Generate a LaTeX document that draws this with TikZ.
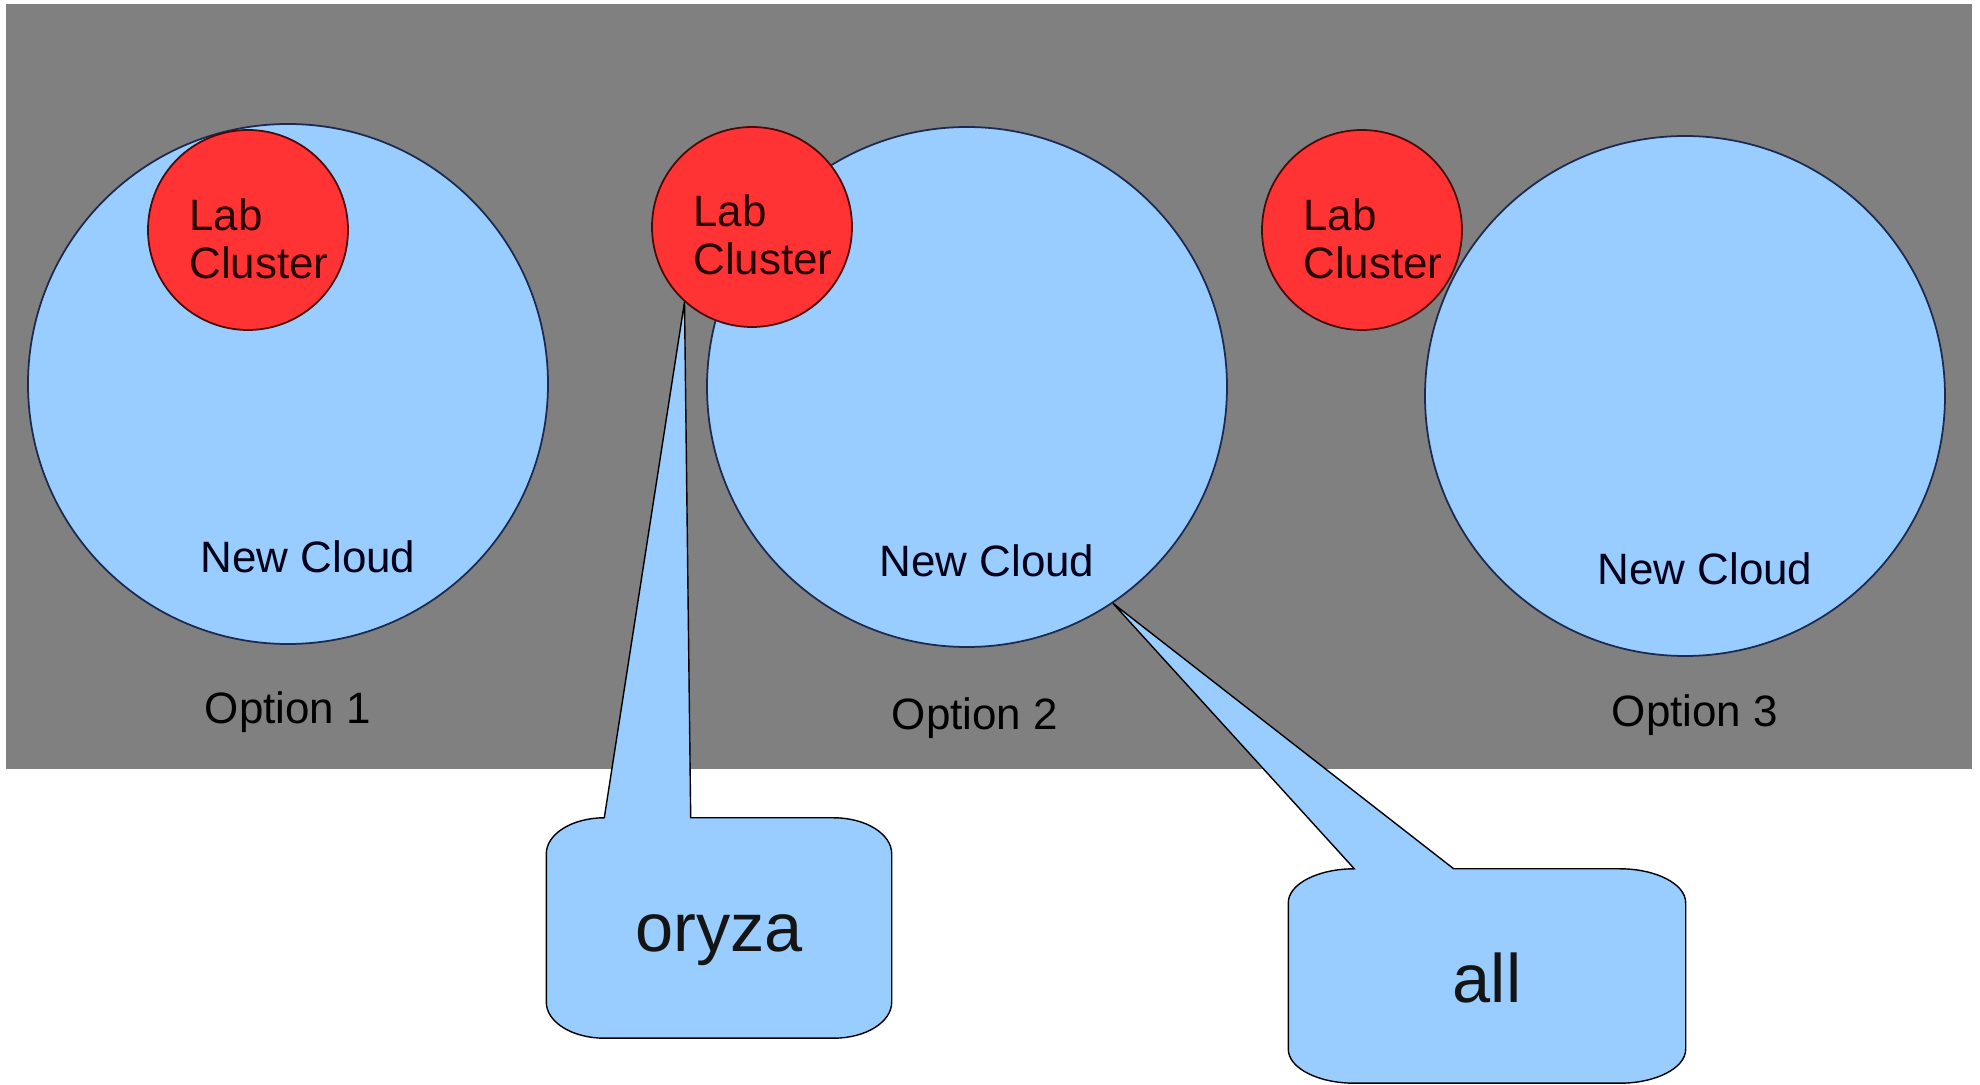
\documentclass[tikz,border=0pt]{standalone}
\usepackage{fontspec}
\setmainfont{Liberation Sans}
\usetikzlibrary{calc}
\definecolor{cloudblue}{HTML}{99CCFF}
\definecolor{labred}{HTML}{FF3333}
\definecolor{panelgray}{HTML}{808080}
\definecolor{cloudline}{HTML}{1C2A50}
\definecolor{labline}{HTML}{4A0A0A}
\tikzset{
  cloud/.style={circle, draw=cloudline, fill=cloudblue, line width=0.5pt, minimum size=52mm, inner sep=0pt},
  lab/.style={circle, draw=labline, fill=labred, line width=0.5pt, minimum size=20mm, inner sep=0pt},
  labtext/.style={align=left, inner sep=0pt, font=\fontsize{12.5}{13.7}\selectfont, text=black!85!red},
  cloudtext/.style={inner sep=0pt, font=\fontsize{12.5}{15}\selectfont, text=black!90!blue},
  optiontext/.style={inner sep=0pt, anchor=base, font=\fontsize{12.5}{15}\selectfont},
  notebox/.style={rectangle, inner sep=0pt},
  notetext/.style={inner sep=0pt, anchor=base, font=\fontsize{19.5}{23}\selectfont, text=black!92},
  note/.style={draw=black, fill=cloudblue, line width=0.4pt}
}

\begin{document}
\begin{tikzpicture}[x=0.1mm, y=-0.1mm]
    \useasboundingbox (0,0) rectangle (1980,1085);
    % Background panel
    \fill[panelgray] (6,4) rectangle (1972,769);

    % Clouds, then the lab clusters on top
    \node[cloud] (cloud1) at (288,384) {};
    \node[cloud] (cloud2) at (967,387) {};
    \node[cloud] (cloud3) at (1685,396) {};
    \node[lab] (lab1) at (248,230) {};
    \node[lab] (lab2) at (752,227) {};
    \node[lab] (lab3) at (1362,230) {};

    % Labels
    \node[labtext] (labtext1) at ($(lab1)+(11,9)$) {Lab\\Cluster};
    \node[labtext] (labtext2) at ($(lab2)+(11,8)$) {Lab\\Cluster};
    \node[labtext] (labtext3) at ($(lab3)+(11,9)$) {Lab\\Cluster};
    \node[cloudtext] (cloudtext1) at ($(cloud1)+(20,173)$) {New Cloud};
    \node[cloudtext] (cloudtext2) at ($(cloud2)+(20,174)$) {New Cloud};
    \node[cloudtext] (cloudtext3) at ($(cloud3)+(20,173)$) {New Cloud};
    \node[optiontext] (option1) at (288,724) {Option 1};
    \node[optiontext] (option2) at (975,730) {Option 2};
    \node[optiontext] (option3) at (1695,727) {Option 3};

    % Callouts
    \node[notebox, minimum width=34.4mm, minimum height=21.9mm] (oryzabox) at (719,928) {};
    \node[notebox, minimum width=39.6mm, minimum height=21.3mm] (allbox) at (1487,976) {};

    \draw[note] (lab2.228) -- ([xshift=5.8mm]oryzabox.north west)
        arc[start angle=90, end angle=180, x radius=5.8mm, y radius=3.6mm]
        -- ([yshift=3.6mm]oryzabox.south west)
        arc[start angle=180, end angle=270, x radius=5.8mm, y radius=3.6mm]
        -- ([xshift=-5.8mm]oryzabox.south east)
        arc[start angle=270, end angle=360, x radius=5.8mm, y radius=3.6mm]
        -- ([yshift=-3.6mm]oryzabox.north east)
        arc[start angle=0, end angle=90, x radius=5.8mm, y radius=3.6mm]
        -- ([xshift=-20.1mm]oryzabox.north east) -- cycle;
    \draw[note] (cloud2.304) -- ([xshift=6.6mm]allbox.north west)
        arc[start angle=90, end angle=180, x radius=6.6mm, y radius=3.4mm]
        -- ([yshift=3.4mm]allbox.south west)
        arc[start angle=180, end angle=270, x radius=6.6mm, y radius=3.4mm]
        -- ([xshift=-6.6mm]allbox.south east)
        arc[start angle=270, end angle=360, x radius=6.6mm, y radius=3.4mm]
        -- ([yshift=-3.4mm]allbox.north east)
        arc[start angle=0, end angle=90, x radius=6.6mm, y radius=3.4mm]
        -- ([xshift=-23.2mm]allbox.north east) -- cycle;

    \node[notetext] (oryza) at (719,952) {oryza};
    \node[notetext] (all) at (1487,1003) {all};
\end{tikzpicture}
\end{document}
